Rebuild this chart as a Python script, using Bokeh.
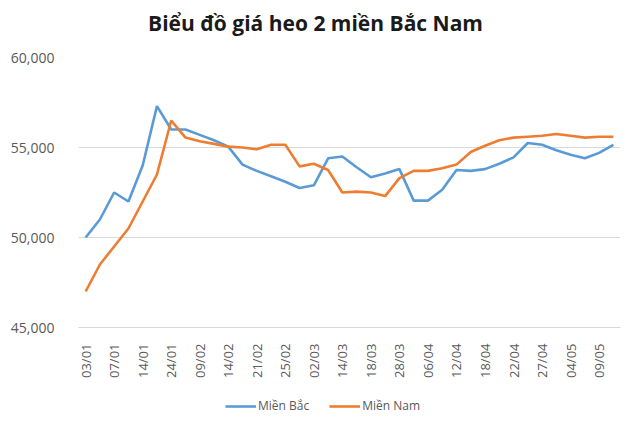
from bokeh.plotting import figure
from bokeh.models import (Range1d, FixedTicker, NumeralTickFormatter,
                          Legend, LegendItem, ColumnDataSource, Label)
from bokeh.layouts import column
from bokeh.embed import file_html
from bokeh.resources import INLINE
import math

title_text = "Biểu đồ giá heo 2 miền Bắc Nam"
dates = ["03/01", "05/01", "07/01", "10/01", "14/01", "17/01", "24/01", "06/02",
         "09/02", "11/02", "14/02", "18/02", "21/02", "23/02", "25/02", "28/02",
         "02/03", "11/03", "14/03", "16/03", "18/03", "25/03", "28/03", "02/04",
         "06/04", "09/04", "12/04", "15/04", "18/04", "20/04", "22/04", "25/04",
         "27/04", "02/05", "04/05", "06/05", "09/05", "11/05"]
mien_bac = [50000, 51000, 52500, 52000, 54000, 57300, 56000, 56000,
            55700, 55400, 55050, 54050, 53700, 53400, 53100, 52750,
            52900, 54400, 54500, 53900, 53350, 53550, 53800, 52050,
            52050, 52650, 53750, 53700, 53800, 54100, 54450, 55250,
            55150, 54850, 54600, 54400, 54700, 55150]
mien_nam = [47000, 48500, 49500, 50500, 52000, 53500, 56500, 55550,
            55350, 55200, 55050, 55000, 54900, 55150, 55150, 53950,
            54100, 53750, 52500, 52550, 52500, 52300, 53300, 53700,
            53700, 53850, 54050, 54750, 55100, 55400, 55550, 55600,
            55650, 55750, 55650, 55550, 55600, 55600]
series_names = ["Miền Bắc", "Miền Nam"]
y_ticks = [45000, 50000, 55000, 60000]

FONT = "Open Sans"
GRAY = "#595959"
BLUE = "#5B9BD5"
ORANGE = "#ED7D31"
W = 632

n = len(dates)
idx = list(range(n))
src = ColumnDataSource(dict(x=idx, bac=mien_bac, nam=mien_nam))


def strip(h):
    f = figure(width=W, height=h, output_backend="svg", toolbar_location=None,
               x_range=Range1d(-1000, -999), y_range=Range1d(0, 1),
               x_axis_type=None, y_axis_type=None, min_border=0)
    f.outline_line_color = None
    f.grid.grid_line_color = None
    f.border_fill_color = "white"
    f.background_fill_color = "white"
    return f


# title strip
t = strip(40)
t.add_layout(Label(x=237, y=18, x_units="screen", y_units="screen",
                   text=title_text, text_align="center", text_baseline="middle",
                   text_font=FONT, text_font_size="21px", text_font_style="bold",
                   text_color="#1a1a1a"))

# main chart
p = figure(width=W, height=350, output_backend="svg", toolbar_location=None,
           x_range=Range1d(-0.5, n - 0.5),
           y_range=Range1d(45000, 60000),
           min_border_left=78, min_border_right=12, min_border_top=17,
           min_border_bottom=63)
p.outline_line_color = None
p.background_fill_color = "white"
p.border_fill_color = "white"

p.line("x", "bac", source=src, line_color=BLUE, line_width=2.6)
p.line("x", "nam", source=src, line_color=ORANGE, line_width=2.6)

p.xgrid.grid_line_color = None
p.ygrid.grid_line_color = "#d9d9d9"
p.ygrid.grid_line_width = 1

p.yaxis.ticker = FixedTicker(ticks=y_ticks)
p.yaxis.formatter = NumeralTickFormatter(format="0,0")
p.yaxis.axis_line_color = None
p.yaxis.major_tick_line_color = None
p.yaxis.minor_tick_line_color = None
p.yaxis.major_label_standoff = 18
p.yaxis.major_label_text_font = FONT
p.yaxis.major_label_text_font_size = "14px"
p.yaxis.major_label_text_color = GRAY

p.xaxis.ticker = FixedTicker(ticks=idx[::2])
p.xaxis.major_label_overrides = {i: dates[i] for i in idx[::2]}
p.xaxis.axis_line_color = "#d9d9d9"
p.xaxis.major_tick_line_color = None
p.xaxis.minor_tick_line_color = None
p.xaxis.major_label_orientation = math.pi / 2
p.xaxis.major_label_standoff = 10
p.xaxis.major_label_text_font = FONT
p.xaxis.major_label_text_font_size = "13px"
p.xaxis.major_label_text_color = GRAY

# legend strip (its lines fall outside its tiny ranges, only the legend shows)
q = strip(33)
l1 = q.line("x", "bac", source=src, line_color=BLUE, line_width=2.6)
l2 = q.line("x", "nam", source=src, line_color=ORANGE, line_width=2.6)

legend = Legend(items=[LegendItem(label=series_names[0], renderers=[l1]),
                       LegendItem(label=series_names[1], renderers=[l2])],
                orientation="horizontal", location=(147, 9))
legend.label_text_font = FONT
legend.label_text_font_size = "12px"
legend.label_text_color = GRAY
legend.border_line_color = None
legend.background_fill_alpha = 0
legend.glyph_width = 31
legend.glyph_height = 16
legend.spacing = 20
legend.label_standoff = 2
legend.padding = 0
legend.margin = 0
q.add_layout(legend, "center")

layout = column(t, p, q, spacing=0)
open("out.html", "w").write(file_html(layout, INLINE))
